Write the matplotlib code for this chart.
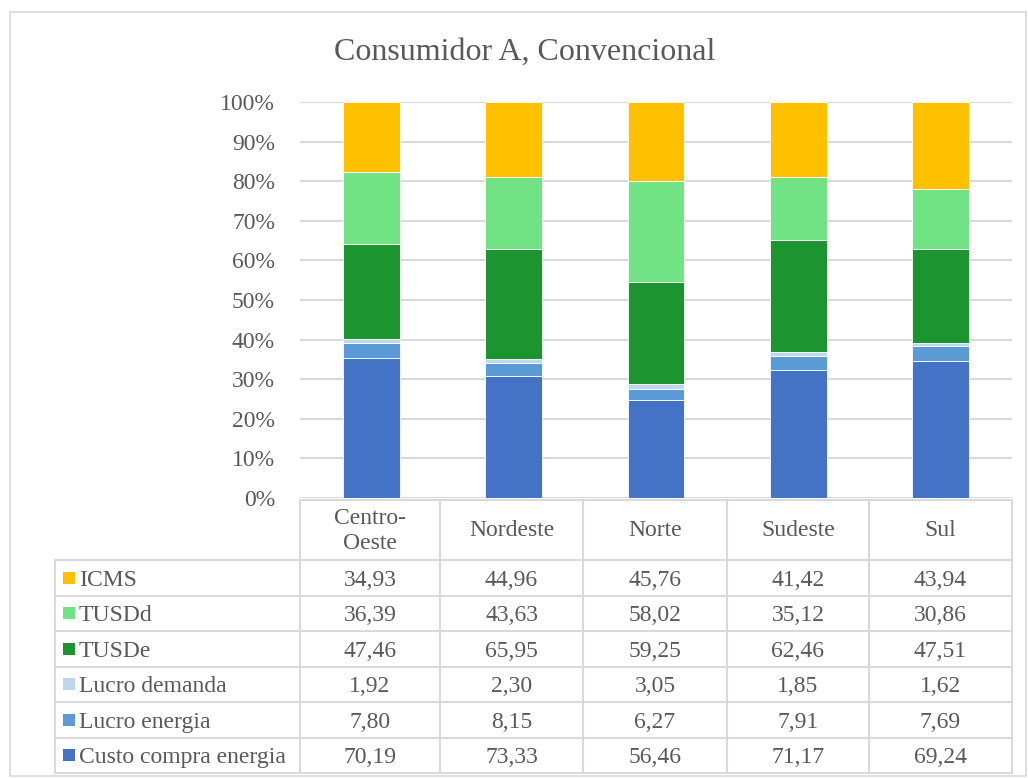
import matplotlib.pyplot as plt
from matplotlib.patches import Rectangle
import numpy as np

plt.rcParams['font.family'] = ['Liberation Serif', 'DejaVu Serif']

regions = ['Centro-\nOeste', 'Nordeste', 'Norte', 'Sudeste', 'Sul']
series = ['Custo compra energia', 'Lucro energia', 'Lucro demanda', 'TUSDe', 'TUSDd', 'ICMS']
custo = [70.19, 73.33, 56.46, 71.17, 69.24]
lucro_energia = [7.80, 8.15, 6.27, 7.91, 7.69]
lucro_demanda = [1.92, 2.30, 3.05, 1.85, 1.62]
tusde = [47.46, 65.95, 59.25, 62.46, 47.51]
tusdd = [36.39, 43.63, 58.02, 35.12, 30.86]
icms = [34.93, 44.96, 45.76, 41.42, 43.94]
colors = ['#4472C4', '#5B9BD5', '#BDD7EE', '#1C9530', '#72E384', '#FFC000']

values = np.array([custo, lucro_energia, lucro_demanda, tusde, tusdd, icms])
shares = values / values.sum(axis=0)

W, H = 1028, 778
txt = '#595959'
grid = '#D9D9D9'
fs = 17

fig = plt.figure(figsize=(W / 100, H / 100), dpi=100)

# frame + table layer in pixel coordinates
lay = fig.add_axes([0, 0, 1, 1])
lay.set_xlim(0, W)
lay.set_ylim(H, 0)
lay.axis('off')
lay.add_patch(Rectangle((10, 12), W - 12, H - 14, fill=False, ec=grid, lw=1.2))
lay.text(525, 52, 'Consumidor A, Convencional', ha='center', va='center', fontsize=23, color=txt)

ax = fig.add_axes([300 / W, (H - 498) / H, 712 / W, 396 / H])
x = np.arange(len(regions)) + 0.5
bottom = np.zeros(len(regions))
for s, c in zip(shares, colors):
    ax.bar(x, s, 0.4, bottom=bottom, color=c, edgecolor='white', linewidth=0.6, zorder=3)
    bottom += s
ax.set_xlim(0, len(regions))
ax.set_ylim(0, 1)
ax.set_yticks(np.linspace(0, 1, 11))
ax.set_yticklabels([f'{int(round(v * 100))}%' for v in np.linspace(0, 1, 11)], fontsize=fs, color=txt)
ax.tick_params(axis='y', length=0, pad=18)
ax.set_xticks([])
ax.grid(axis='y', color=grid, linewidth=1.5, zorder=0)
for sp in ax.spines.values():
    sp.set_visible(False)

# data table
col_edges = [300, 440, 583, 727, 869, 1012]
left = 55
top = 500
row_top = 560
row_h = 35.5
n_rows = len(series)
bot = row_top + n_rows * row_h
lw = 1.5
lay.plot([col_edges[0], col_edges[-1]], [top, top], color=grid, lw=lw)
for xe in col_edges:
    lay.plot([xe, xe], [top, bot], color=grid, lw=lw)
lay.plot([left, left], [row_top, bot], color=grid, lw=lw)
for r in range(n_rows + 1):
    y = row_top + r * row_h
    lay.plot([left, col_edges[-1]], [y, y], color=grid, lw=lw)

for i, name in enumerate(regions):
    cx = (col_edges[i] + col_edges[i + 1]) / 2
    lay.text(cx, (top + row_top) / 2 + 1, name, ha='center', va='center', fontsize=fs, color=txt,
             linespacing=1.3)

order = list(range(n_rows))[::-1]
for r, k in enumerate(order):
    cy = row_top + (r + 0.5) * row_h
    lay.add_patch(Rectangle((63, cy - 6), 12, 12, color=colors[k], lw=0))
    lay.text(79, cy, series[k], ha='left', va='center_baseline', fontsize=fs, color=txt)
    for i in range(len(regions)):
        cx = (col_edges[i] + col_edges[i + 1]) / 2
        lay.text(cx, cy, f'{values[k][i]:.2f}'.replace('.', ','), ha='center', va='center_baseline',
                 fontsize=fs, color=txt)

fig.savefig('out.png', dpi=100)
